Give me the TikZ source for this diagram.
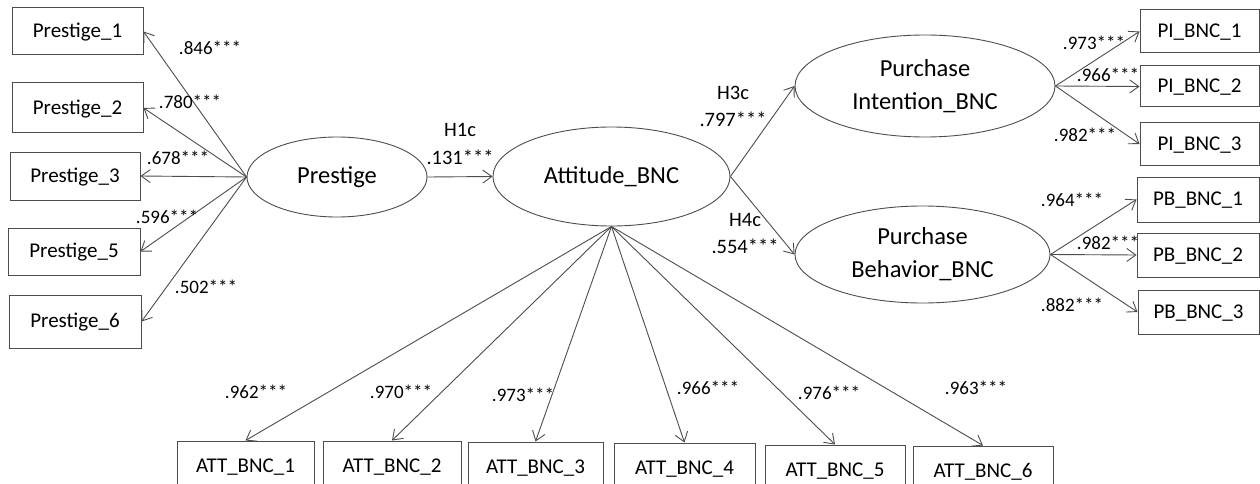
\documentclass[tikz,border=0pt]{standalone}
\usepackage{fontspec}
\setmainfont{Carlito}
\usetikzlibrary{arrows.meta,shapes.geometric}
\definecolor{linec}{HTML}{4D4D4D}
\begin{document}
\begin{tikzpicture}[x=1pt,y=-1pt,
  box/.style={draw=linec, line width=1pt, rectangle, inner sep=0pt,
    text height=14pt, text depth=2pt, font=\fontsize{21}{24}\selectfont},
  lat/.style={draw=linec, line width=0.9pt, ellipse, inner sep=0pt, align=center,
    font=\fontsize{24.5}{33}\selectfont},
  load/.style={inner sep=0pt, font=\fontsize{19}{22}\selectfont},
  hyp/.style={inner sep=0pt, align=center, font=\fontsize{20.5}{27.5}\selectfont},
  arr/.style={draw=linec, line width=0.9pt, -{Straight Barb[length=9pt,width=13pt]}}]
\clip (0,0) rectangle (1260,484);
\fill[white] (0,0) rectangle (1260,484);

% latent variables
\node[lat, minimum width=180pt, minimum height=80pt] (pre) at (337,177) {Prestige};
\node[lat, minimum width=237pt, minimum height=99pt] (att) at (611.5,176.5) {Attitude\_BNC};
\node[lat, minimum width=260pt, minimum height=102pt] (pi) at (925,86) {Purchase\\Intention\_BNC};
\node[lat, minimum width=255pt, minimum height=97pt] (pb) at (922.5,254.5) {Purchase\\Behavior\_BNC};

% left indicators
\node[box, minimum width=131pt, minimum height=47pt] (p1) at (77.5,31.5) {Prestige\_1};
\node[box, minimum width=131pt, minimum height=50pt] (p2) at (77.5,108) {Prestige\_2};
\node[box, minimum width=130pt, minimum height=48pt] (p3) at (75,176) {Prestige\_3};
\node[box, minimum width=132pt, minimum height=47pt] (p5) at (74,251.5) {Prestige\_5};
\node[box, minimum width=132pt, minimum height=53pt] (p6) at (75,321.5) {Prestige\_6};

% right indicators
\node[box, minimum width=119pt, minimum height=43pt] (pi1) at (1199.5,31.5) {PI\_BNC\_1};
\node[box, minimum width=119pt, minimum height=41pt] (pi2) at (1199.5,86.5) {PI\_BNC\_2};
\node[box, minimum width=119pt, minimum height=42pt] (pi3) at (1199.5,144) {PI\_BNC\_3};
\node[box, minimum width=122pt, minimum height=45pt] (pb1) at (1198,199.5) {PB\_BNC\_1};
\node[box, minimum width=122pt, minimum height=44pt] (pb2) at (1198,255) {PB\_BNC\_2};
\node[box, minimum width=121pt, minimum height=44pt] (pb3) at (1198.5,312) {PB\_BNC\_3};

% bottom indicators
\node[box, minimum width=137pt, minimum height=50pt] (a1) at (245.5,466) {ATT\_BNC\_1};
\node[box, minimum width=138pt, minimum height=50pt] (a2) at (392,466) {ATT\_BNC\_2};
\node[box, minimum width=135pt, minimum height=50pt] (a3) at (535.5,467) {ATT\_BNC\_3};
\node[box, minimum width=141pt, minimum height=50pt] (a4) at (684.5,468) {ATT\_BNC\_4};
\node[box, minimum width=140pt, minimum height=50pt] (a5) at (835,470) {ATT\_BNC\_5};
\node[box, minimum width=140pt, minimum height=50pt] (a6) at (983,471) {ATT\_BNC\_6};

% structural paths
\draw[arr] (pre.east) -- (att.west);
\draw[arr] (att.east) -- (pi.west);
\draw[arr] (att.east) -- (pb.west);
\node[hyp] (h1) at (460,144) {H1c\\.131***};
\node[hyp] (h3) at (733,106.5) {H3c\\.797***};
\node[hyp] (h4) at (745,233.5) {H4c\\.554***};

% measurement paths
\foreach \t in {p1,p2,p3,p5,p6} \draw[arr] (pre.west) -- (\t.east);
\foreach \t in {pi1,pi2,pi3} \draw[arr] (pi.east) -- (\t.west);
\foreach \t in {pb1,pb2,pb3} \draw[arr] (pb.east) -- (\t.west);
\foreach \t in {a1,a2,a3,a4,a5,a6} \draw[arr] (att.south) -- (\t.north);

% loadings
\node[load] (l1) at (210,48) {.846***};
\node[load] (l2) at (190,102) {.780***};
\node[load] (l3) at (178,158) {.678***};
\node[load] (l5) at (167,217) {.596***};
\node[load] (l6) at (206,287) {.502***};
\node[load] (r1) at (1094,43) {.973***};
\node[load] (r2) at (1108,75) {.966***};
\node[load] (r3) at (1085,135) {.982***};
\node[load] (r4) at (1072,200) {.964***};
\node[load] (r5) at (1108,243) {.982***};
\node[load] (r6) at (1072,305) {.882***};
\node[load] (b1) at (256,392) {.962***};
\node[load] (b2) at (401,392) {.970***};
\node[load] (b3) at (523,395) {.973***};
\node[load] (b4) at (708,388) {.966***};
\node[load] (b5) at (829,393) {.976***};
\node[load] (b6) at (976,388) {.963***};
\end{tikzpicture}
\end{document}
